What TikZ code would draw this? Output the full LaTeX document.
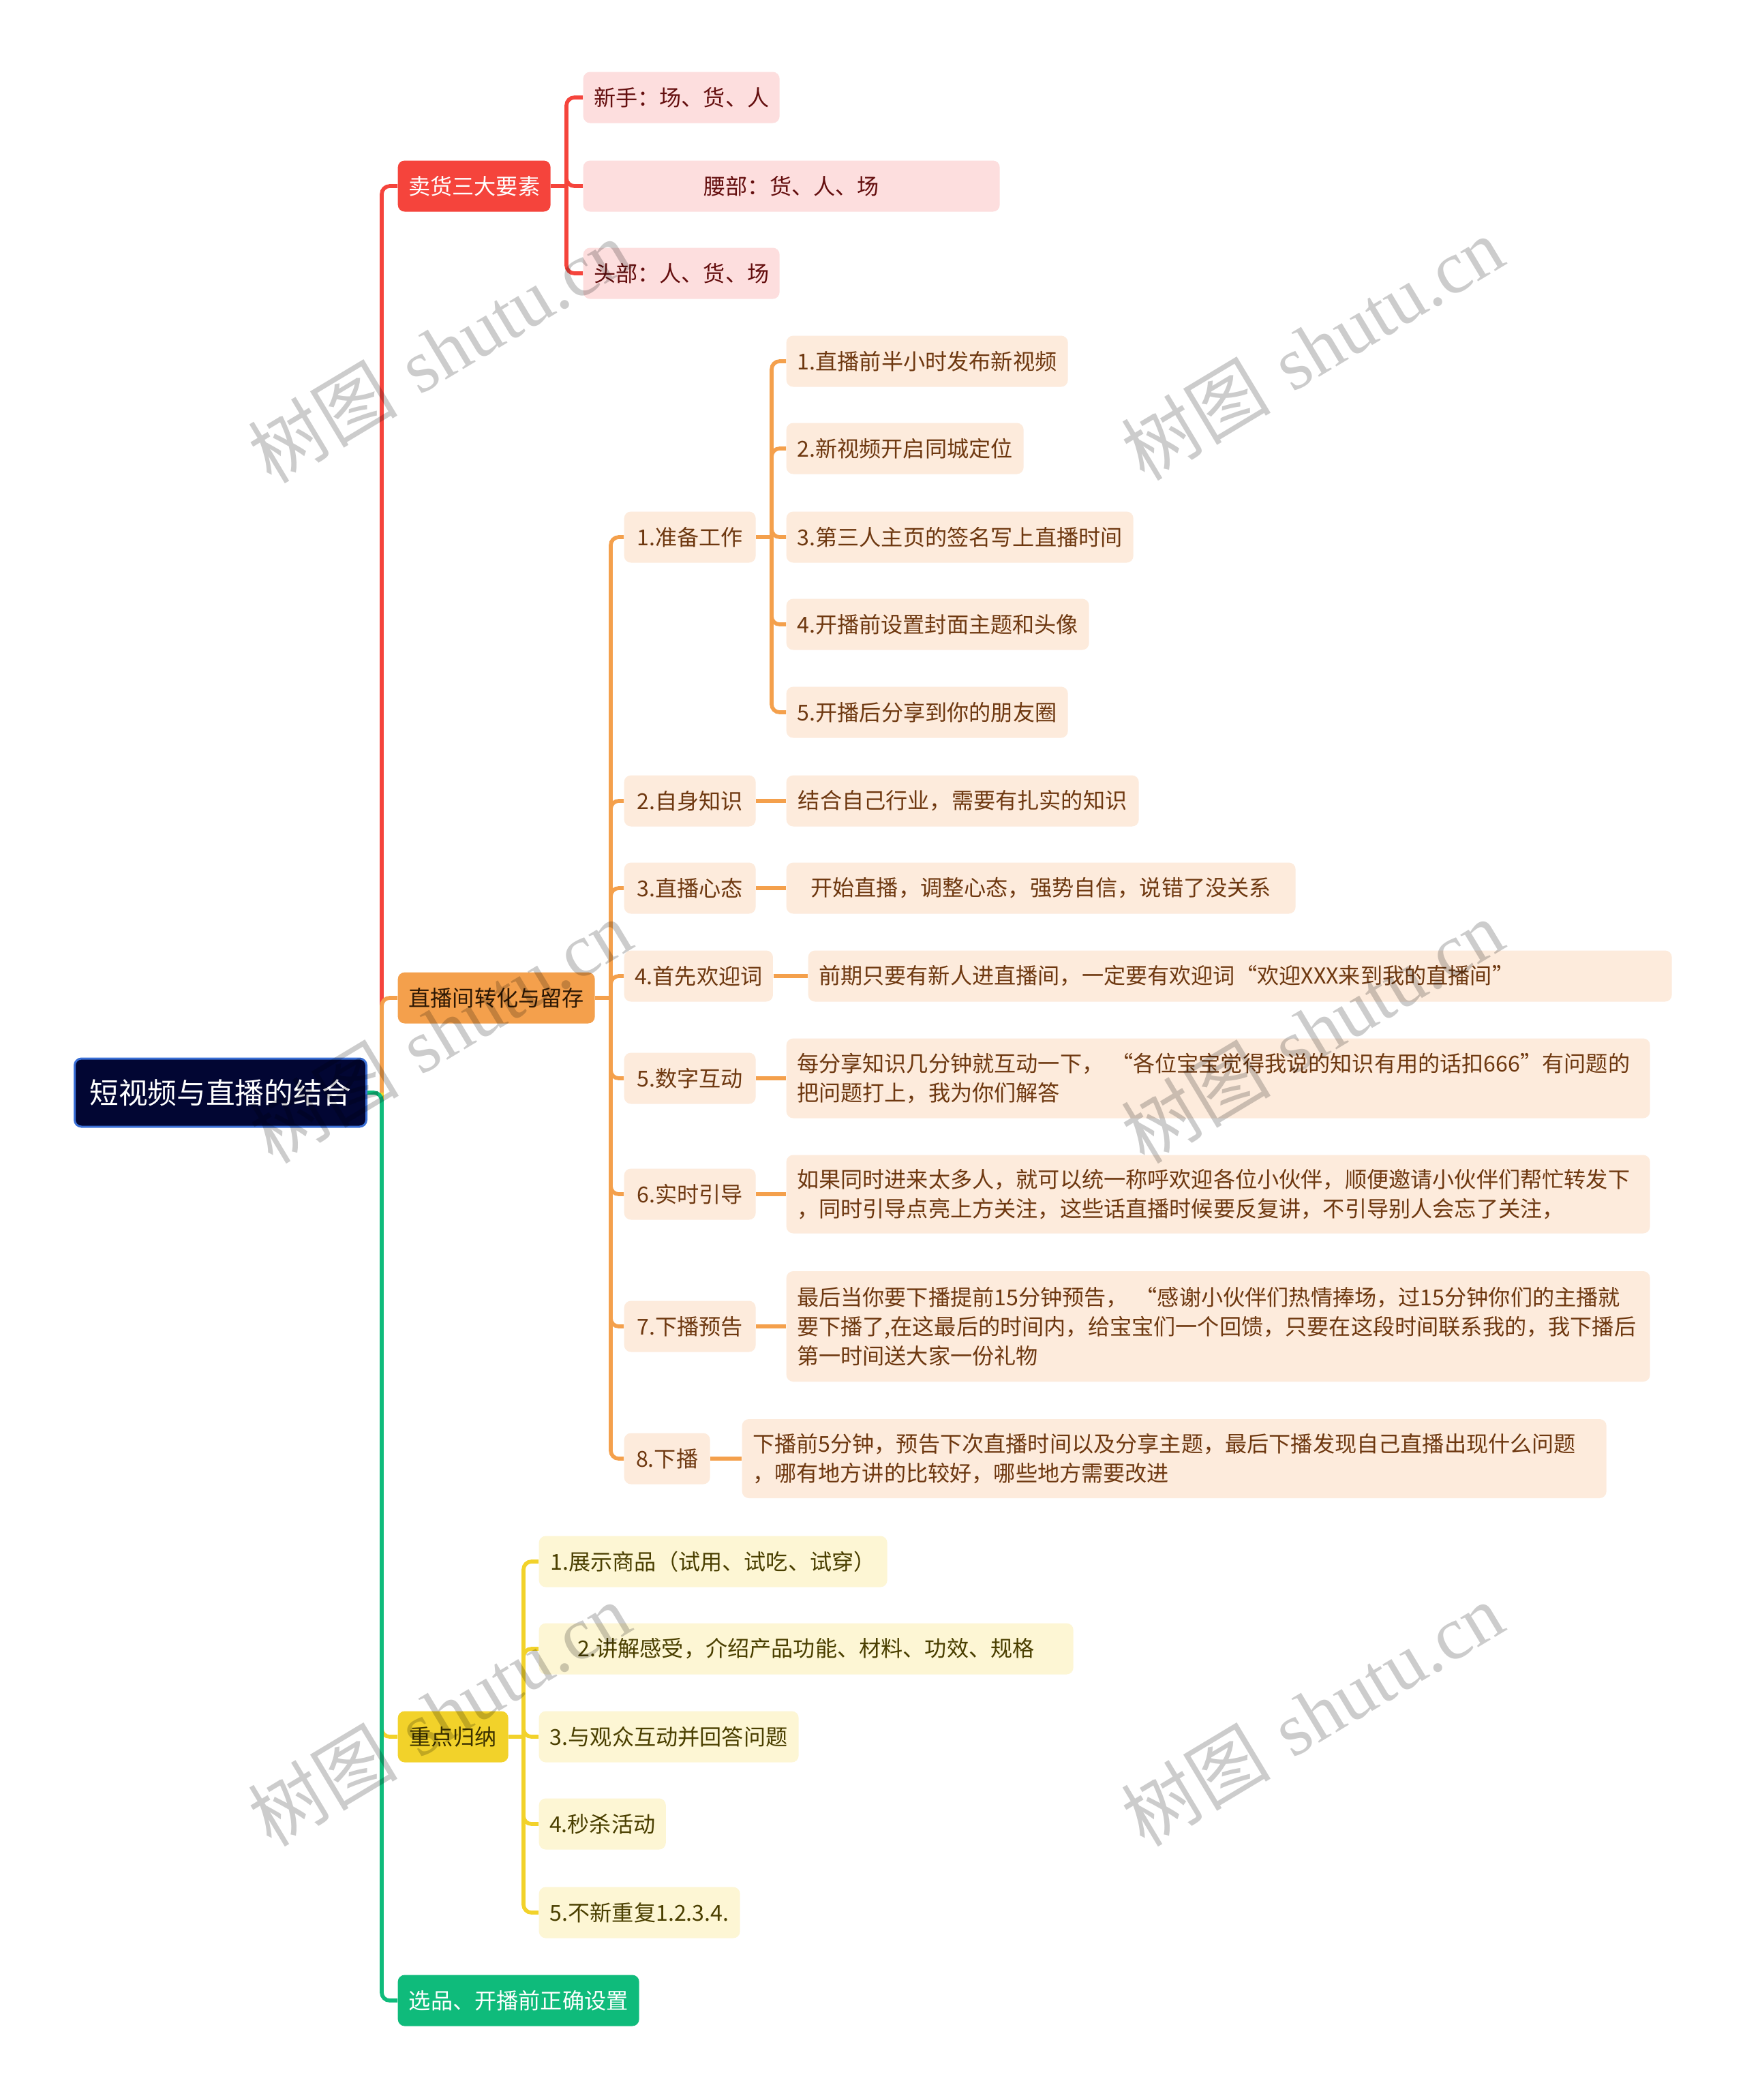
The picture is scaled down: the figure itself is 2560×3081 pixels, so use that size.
\documentclass[tikz,border=0pt]{standalone}
\usepackage{fontspec}
\newfontfamily\cjk{Noto Sans CJK SC}
\newfontfamily\wmserif{Liberation Serif}
\definecolor{rootF}{HTML}{020633}
\definecolor{rootD}{HTML}{3A6FD6}
\definecolor{redC}{HTML}{F5443C}
\definecolor{redF}{HTML}{FDDEDE}
\definecolor{redT}{HTML}{640E0E}
\definecolor{oraC}{HTML}{F4A04C}
\definecolor{oraF}{HTML}{FDEBDC}
\definecolor{oraT}{HTML}{6E3810}
\definecolor{oraLT}{HTML}{2E1804}
\definecolor{yelC}{HTML}{F2D22A}
\definecolor{yelF}{HTML}{FDF6D4}
\definecolor{yelT}{HTML}{4A3F00}
\definecolor{yelLT}{HTML}{3A3000}
\definecolor{grnC}{HTML}{0FBB7B}
\tikzset{
 nbox/.style={rounded corners=3pt, inner xsep=4.6pt, inner ysep=0pt, minimum height=22.5pt, anchor=west, align=left, font=\cjk\fontsize{9.65}{12.9}\selectfont},
 rootbox/.style={nbox, fill=rootF, draw=rootD, line width=0.9pt, text=white, font=\cjk\fontsize{12.8}{15}\selectfont, minimum height=30pt},
 redtop/.style={nbox, fill=redC, text=white},
 oratop/.style={nbox, fill=oraC, text=oraLT},
 yeltop/.style={nbox, fill=yelC, text=yelLT},
 grntop/.style={nbox, fill=grnC, text=white},
 redsub/.style={nbox, fill=redF, text=redT},
 orasub/.style={nbox, fill=oraF, text=oraT},
 yelsub/.style={nbox, fill=yelF, text=yelT},
 conn/.style={line width=1.7pt, rounded corners=3.5pt},
 wmark/.style={rotate=31, text=black, opacity=0.2, inner sep=0pt, font=\fontsize{33}{38}\selectfont}
}
\begin{document}
\begin{tikzpicture}[x=0.3pt,y=-0.3pt]
\useasboundingbox[fill=white] (0,0) rectangle (2560,3081);

% root and level 1
\node[rootbox, minimum width=128.4pt] (root) at (108,1603) {短视频与直播的结合};
\node[redtop, minimum width=67.2pt] (A) at (583,273) {卖货三大要素};
\node[oratop, minimum width=86.7pt] (B) at (583,1464) {直播间转化与留存};
\node[yeltop, minimum width=48.6pt] (C) at (583,2548) {重点归纳};
\node[grntop, minimum width=106.2pt] (D) at (583,2935) {选品、开播前正确设置};

% red children
\node[redsub, minimum width=86.4pt] (A1) at (855,143) {新手：场、货、人};
\node[redsub, minimum width=183.3pt, align=center] (A2) at (855,273) {腰部：货、人、场};
\node[redsub, minimum width=86.4pt] (A3) at (855,401) {头部：人、货、场};

% orange level 2
\node[orasub, minimum width=57.9pt] (B1) at (915,788) {1.准备工作};
\node[orasub, minimum width=57.9pt] (B2) at (915,1175) {2.自身知识};
\node[orasub, minimum width=57.9pt] (B3) at (915,1303) {3.直播心态};
\node[orasub, minimum width=62.7pt] (B4) at (915,1432) {4.首先欢迎词};
\node[orasub, minimum width=57.9pt] (B5) at (915,1582) {5.数字互动};
\node[orasub, minimum width=57.9pt] (B6) at (915,1752) {6.实时引导};
\node[orasub, minimum width=57.9pt] (B7) at (915,1946) {7.下播预告};
\node[orasub, minimum width=37.8pt] (B8) at (915,2140) {8.下播};

% orange level 3 under 1.准备工作
\node[orasub, minimum width=123.9pt] (P1) at (1153,530) {1.直播前半小时发布新视频};
\node[orasub, minimum width=104.4pt] (P2) at (1153,658) {2.新视频开启同城定位};
\node[orasub, minimum width=152.7pt] (P3) at (1153,788) {3.第三人主页的签名写上直播时间};
\node[orasub, minimum width=133.2pt] (P4) at (1153,916) {4.开播前设置封面主题和头像};
\node[orasub, minimum width=123.9pt] (P5) at (1153,1045) {5.开播后分享到你的朋友圈};

% orange details
\node[orasub, minimum width=155.1pt] (E2) at (1153,1175) {结合自己行业，需要有扎实的知识};
\node[orasub, minimum width=224.1pt, align=center] (E3) at (1153,1303) {开始直播，调整心态，强势自信，说错了没关系};
\node[orasub, text width=370.9pt] (E4) at (1185,1432) {前期只要有新人进直播间，一定要有欢迎词“欢迎XXX来到我的直播间”};
\node[orasub, text width=370.9pt, minimum height=35.1pt] (E5) at (1153,1582) {每分享知识几分钟就互动一下， “各位宝宝觉得我说的知识有用的话扣666”有问题的\\把问题打上，我为你们解答};
\node[orasub, text width=370.9pt, minimum height=34.5pt] (E6) at (1153,1752) {如果同时进来太多人，就可以统一称呼欢迎各位小伙伴，顺便邀请小伙伴们帮忙转发下\\，同时引导点亮上方关注，这些话直播时候要反复讲，不引导别人会忘了关注，};
\node[orasub, text width=370.9pt, minimum height=48.6pt] (E7) at (1153,1946) {最后当你要下播提前15分钟预告， “感谢小伙伴们热情捧场，过15分钟你们的主播就\\要下播了,在这最后的时间内，给宝宝们一个回馈，只要在这段时间联系我的，我下播后\\第一时间送大家一份礼物};
\node[orasub, text width=371.2pt, minimum height=34.8pt] (E8) at (1088,2140) {下播前5分钟，预告下次直播时间以及分享主题，最后下播发现自己直播出现什么问题\\，哪有地方讲的比较好，哪些地方需要改进};

% yellow children
\node[yelsub, minimum width=153.3pt] (C1) at (790,2291) {1.展示商品（试用、试吃、试穿）};
\node[yelsub, minimum width=235.2pt, align=center] (C2) at (790,2419) {2.讲解感受，介绍产品功能、材料、功效、规格};
\node[yelsub, minimum width=114.3pt] (C3) at (790,2548) {3.与观众互动并回答问题};
\node[yelsub, minimum width=55.8pt] (C4) at (790,2676) {4.秒杀活动};
\node[yelsub, minimum width=88.5pt] (C5) at (790,2806) {5.不新重复1.2.3.4.};

% junction coordinates
\coordinate (rj) at (560,1603);
\coordinate (aj) at (831,273);
\coordinate (bj) at (896,1464);
\coordinate (cj) at (1132,788);
\coordinate (yj) at (768,2548);

% root connectors
\draw[conn, redC] (rj) |- (A.west);
\draw[conn, oraC] (rj) |- (B.west);
\draw[conn, yelC] (rj) |- (C.west);
\draw[conn, grnC] (root.east) -- (rj) |- (D.west);

% red
\draw[conn, redC] (A.east) -- (aj);
\foreach \n in {A1,A2,A3} \draw[conn, redC] (aj) |- (\n.west);

% orange
\draw[conn, oraC] (B.east) -- (bj);
\foreach \n in {B1,B2,B3,B4,B5,B6,B7,B8} \draw[conn, oraC] (bj) |- (\n.west);
\draw[conn, oraC] (B1.east) -- (cj);
\foreach \n in {P1,P2,P3,P4,P5} \draw[conn, oraC] (cj) |- (\n.west);
\draw[conn, oraC] (B2.east) -- (E2.west);
\draw[conn, oraC] (B3.east) -- (E3.west);
\draw[conn, oraC] (B4.east) -- (E4.west);
\draw[conn, oraC] (B5.east) -- (E5.west);
\draw[conn, oraC] (B6.east) -- (E6.west);
\draw[conn, oraC] (B7.east) -- (E7.west);
\draw[conn, oraC] (B8.east) -- (E8.west);

% yellow
\draw[conn, yelC] (C.east) -- (yj);
\foreach \n in {C1,C2,C3,C4,C5} \draw[conn, yelC] (yj) |- (\n.west);

% watermarks
\foreach \p [count=\i] in {(644,515),(1925,511),(646,1513),(1925,1513),(644,2515),(1925,2515)}
  \node[wmark] (wm\i) at \p {{\cjk 树图} {\wmserif shutu.cn}};
\end{tikzpicture}
\end{document}
